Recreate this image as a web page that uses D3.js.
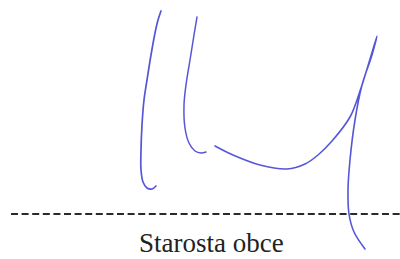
<!DOCTYPE html>
<meta charset="utf-8">
<style>
    body { margin: 0; background: #fff; }
    .stroke { fill: none; stroke: #5656d8; stroke-linecap: round; stroke-linejoin: round; }
    .sig-line { stroke: #2a2a2a; stroke-width: 2; stroke-dasharray: 7 3.6; }
    .caption { font-family: "Liberation Serif", "DejaVu Serif", serif; font-size: 27px; fill: #222; }
</style>
<svg width="400" height="259"></svg>

<script src="https://d3js.org/d3.v7.min.js"></script>
<script>
    // pen strokes of the signature, [x, y] in picture units
    var strokeFirst = [[161, 11], [158, 20], [155, 33], [151, 55], [147, 80], [144, 100], [142, 125], [141, 150], [141, 170], [143, 182], [147, 188], [152, 189], [156, 186]];
    var strokeSecond = [[197, 17], [194, 35], [190, 60], [186, 85], [184, 105], [185, 128], [189, 143], [195, 151], [201, 153], [206, 152]];
    var strokeThird = [[215, 146], [233, 155], [260, 165], [287, 169], [305, 164], [318, 155], [332, 141], [350, 117], [361, 88], [377, 36], [372, 55], [362, 85], [355, 120], [350, 160], [348, 190], [349, 214], [354, 232], [365, 249]];
    var strokes = [strokeFirst, strokeSecond, strokeThird];
    var strokeWidths = [1.7, 1.5, 1.6];

    var lineY = 214, lineStart = 11, lineEnd = 400;
    var captionText = "Starosta obce";

    var svg = d3.select("svg"),
        width = +svg.attr("width"),
        height = +svg.attr("height");

    var x = d3.scaleLinear().domain([0, 400]).range([0, width]);
    var y = d3.scaleLinear().domain([0, 259]).range([0, height]);

    var pen = d3.line()
        .x(function(d) { return x(d[0]); })
        .y(function(d) { return y(d[1]); })
        .curve(d3.curveCatmullRom.alpha(0.5));

    svg.append("line")
        .attr("class", "sig-line")
        .attr("x1", x(lineStart))
        .attr("x2", x(lineEnd))
        .attr("y1", y(lineY))
        .attr("y2", y(lineY));

    svg.selectAll(".stroke")
        .data(strokes)
        .enter().append("path")
        .attr("class", "stroke")
        .attr("stroke-width", function(d, i) { return strokeWidths[i]; })
        .attr("d", pen);

    svg.append("text")
        .attr("class", "caption")
        .attr("x", x(139))
        .attr("y", y(252))
        .text(captionText);
</script>
